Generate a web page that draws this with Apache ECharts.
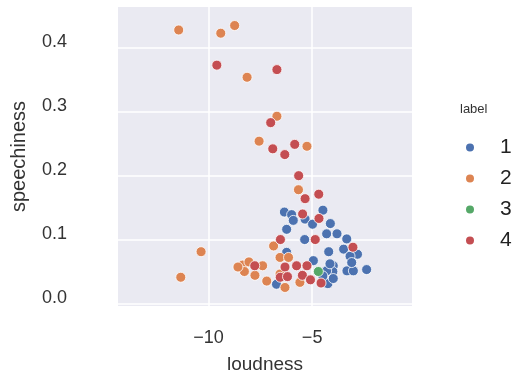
<!DOCTYPE html>
<html>
<head>
<meta charset="utf-8">
<script src="https://cdn.jsdelivr.net/npm/echarts@6/dist/echarts.min.js"></script>
<style>html,body{margin:0;padding:0;background:#fff}#c{width:512px;height:379px}</style>
</head>
<body>
<div id="c"></div>
<script>
// ---- data ----
const labels = ['1', '2', '3', '4'];
const xTicks = [-10, -5];
const yTicks = [0, 0.1, 0.2, 0.3, 0.4];
const yTickLabels = ['0.0', '0.1', '0.2', '0.3', '0.4'];

const loudness1 = [-6.34,-5.99,-5.91,-5.34,-4.48,-4.98,-4.12,-6.23,-4.30,-3.80,-5.36,-3.33,-3.48,-4.20,-2.81,-3.17,-6.23,-4.94,-3.98,-4.00,-4.30,-3.32,-3.01,-2.37,-3.09,-4.24,-3.98,-6.72,-4.48,-4.14];
const speech1   = [0.143,0.139,0.130,0.132,0.146,0.124,0.125,0.116,0.109,0.109,0.100,0.101,0.085,0.081,0.077,0.074,0.080,0.067,0.059,0.050,0.051,0.051,0.051,0.053,0.064,0.031,0.039,0.030,0.043,0.062];

const loudness2 = [-11.44,-9.41,-8.74,-8.14,-6.70,-7.56,-5.25,-5.66,-6.86,-10.36,-11.34,-6.55,-6.14,-8.35,-7.39,-8.27,-7.76,-7.19,-6.55,-5.59,-6.31,-8.05,-8.58];
const speech2   = [0.428,0.423,0.435,0.354,0.293,0.254,0.246,0.178,0.090,0.081,0.041,0.072,0.072,0.060,0.059,0.050,0.044,0.035,0.046,0.033,0.025,0.065,0.057];

const loudness3 = [-4.70];
const speech3   = [0.050];

const loudness4 = [-9.60,-6.70,-7.00,-6.90,-5.84,-6.32,-5.65,-5.34,-4.68,-5.46,-4.67,-4.85,-6.53,-3.03,-7.77,-6.31,-5.75,-5.25,-6.54,-6.19,-5.47,-5.08,-4.57];
const speech4   = [0.373,0.366,0.283,0.242,0.249,0.233,0.200,0.164,0.171,0.140,0.133,0.100,0.100,0.088,0.059,0.057,0.059,0.059,0.041,0.042,0.044,0.037,0.032];

const colors = ['#4c72b0', '#dd8452', '#55a868', '#c44e52'];
const groups = [[loudness1, speech1], [loudness2, speech2], [loudness3, speech3], [loudness4, speech4]];

const series = labels.map((name, i) => ({
  name: name,
  type: 'scatter',
  symbol: 'circle',
  symbolSize: 10,
  itemStyle: { color: colors[i], borderColor: '#ffffff', borderWidth: 0.8, opacity: 1 },
  emphasis: { disabled: true },
  data: groups[i][0].map((x, j) => [x, groups[i][1][j]])
}));

const chart = echarts.init(document.getElementById('c'), null, { renderer: 'canvas' });
chart.setOption({
  animation: false,
  backgroundColor: '#ffffff',
  textStyle: { fontFamily: 'Liberation Sans, Arial, sans-serif' },
  title: {
    text: 'label', left: 455, top: 98,
    textStyle: { fontSize: 13, fontWeight: 'normal', color: '#333', fontFamily: 'Liberation Sans, Arial, sans-serif' }
  },
  legend: {
    data: labels,
    orient: 'vertical',
    left: 459, top: 132,
    itemWidth: 10, itemHeight: 10, itemGap: 10,
    icon: 'circle',
    textStyle: { fontSize: 21, color: '#222', padding: [0, 0, 0, 20], fontFamily: 'Liberation Sans, Arial, sans-serif' }
  },
  grid: { left: 118, right: 100, top: 7, bottom: 70, show: true, backgroundColor: '#eaeaf2', borderWidth: 0 },
  xAxis: {
    type: 'value', min: -14.37, max: -0.18,
    name: 'loudness', nameLocation: 'middle', nameGap: 49,
    nameTextStyle: { fontSize: 19, color: '#333' },
    axisLine: { show: false },
    axisTick: { show: false, customValues: xTicks },
    axisLabel: { customValues: xTicks, fontSize: 18, color: '#333', margin: 23,
      formatter: v => (v < 0 ? '\u2212' + Math.abs(v) : String(v)) },
    splitLine: { show: true, lineStyle: { color: '#ffffff', width: 1.5 } }
  },
  yAxis: {
    type: 'value', min: -0.004, max: 0.464,
    name: 'speechiness', nameLocation: 'middle', nameGap: 89,
    nameTextStyle: { fontSize: 20, color: '#333' },
    axisLine: { show: false },
    axisTick: { show: false, customValues: yTicks },
    axisLabel: { customValues: yTicks, fontSize: 18, color: '#333', margin: 51, verticalAlign: 'bottom', lineHeight: 11,
      formatter: v => yTickLabels[yTicks.indexOf(Math.round(v * 10) / 10)] },
    splitLine: { show: true, lineStyle: { color: '#ffffff', width: 1.5 } }
  },
  series: series
});
</script>
</body>
</html>
